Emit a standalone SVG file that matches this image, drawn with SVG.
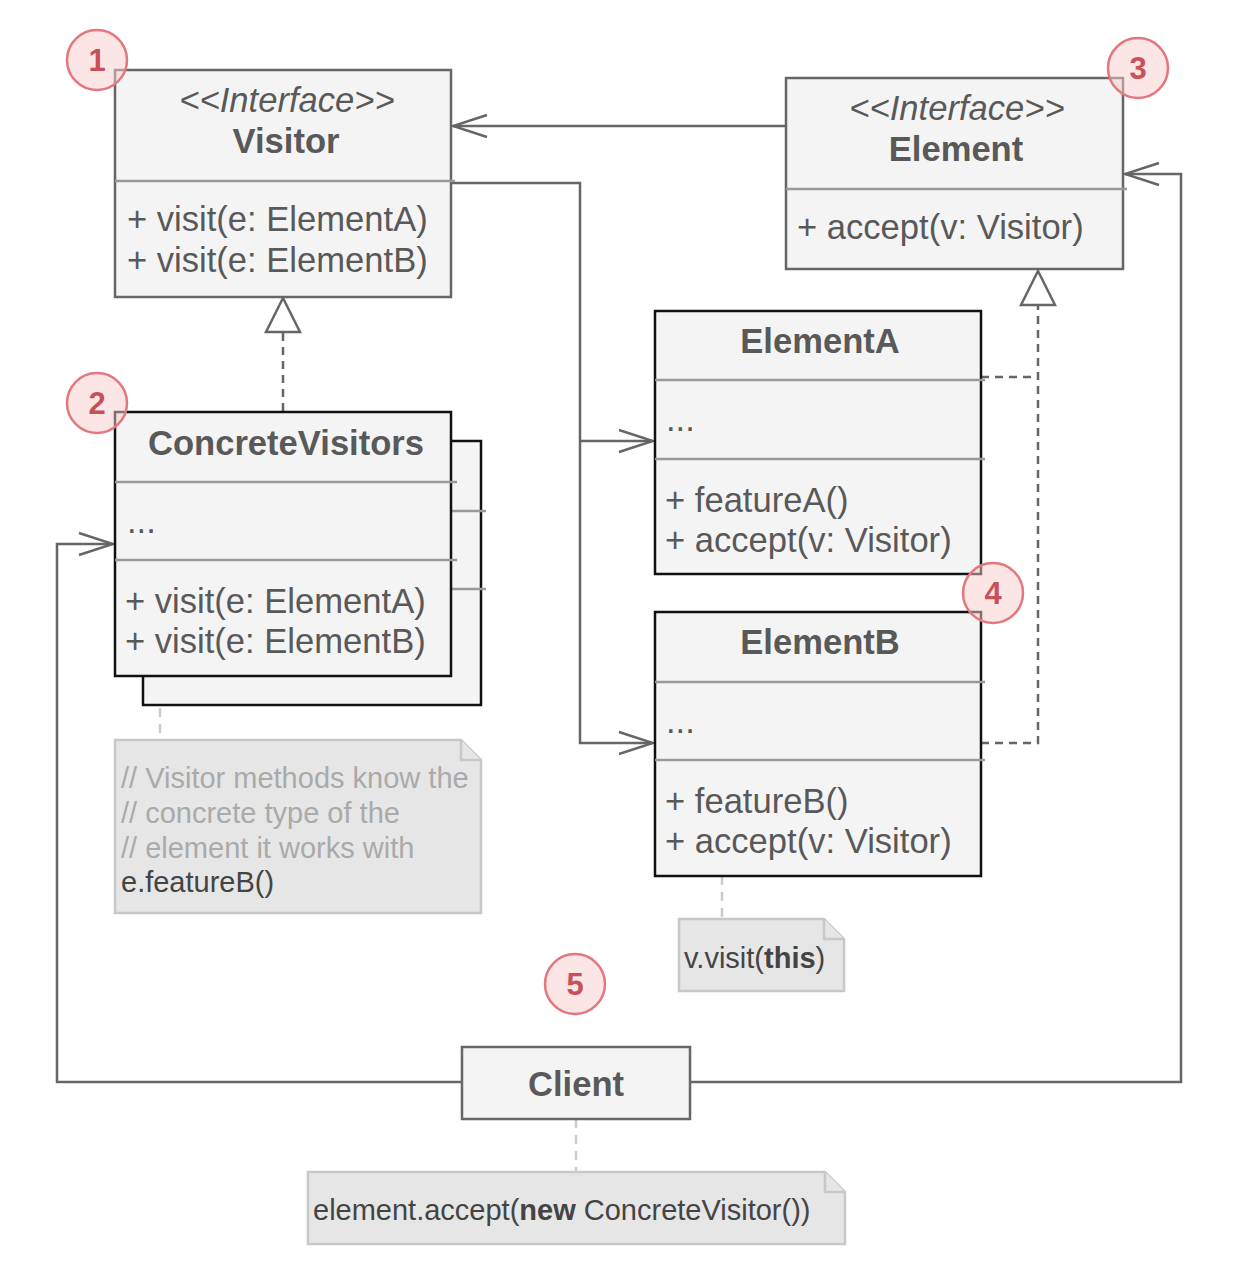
<svg xmlns="http://www.w3.org/2000/svg" width="1234" height="1280" viewBox="0 0 1234 1280">
<defs>
<style>
.box{fill:#f4f4f4;stroke:#666;stroke-width:2.5}
.boxd{fill:#f4f4f4;stroke:#111;stroke-width:2.5}
.div{stroke:#999;stroke-width:2.5;fill:none}
.t{font-family:"Liberation Sans",Arial,sans-serif;font-size:34.6px;fill:#595959}
.b{font-weight:bold}
.i{font-style:italic}
.mid{text-anchor:middle}
.con{fill:none;stroke:#666;stroke-width:2.5}
.dash{fill:none;stroke:#666;stroke-width:2.5;stroke-dasharray:8 6}
.tri{fill:#fff;stroke:#666;stroke-width:2.5}
.ndash{fill:none;stroke:#ccc;stroke-width:2.5;stroke-dasharray:9 7}
.note{fill:#e6e6e6;stroke:#c8c8c8;stroke-width:2.5}
.nt{font-family:"Liberation Sans",Arial,sans-serif;font-size:29px;fill:#444}
.cm{fill:#aaa}
.badge{fill:#f8cecc;fill-opacity:0.5;stroke:#e4777e;stroke-width:2.5}
.bn{font-family:"Liberation Sans",Arial,sans-serif;font-size:31px;font-weight:bold;fill:#c8505a;text-anchor:middle}
</style>
<marker id="open" viewBox="-37 -14 40 28" refX="0" refY="0" markerWidth="40" markerHeight="28" markerUnits="userSpaceOnUse" orient="auto">
<path d="M-34,-11 L0,0 L-34,11" fill="none" stroke="#666" stroke-width="2.5"/>
</marker>
</defs>
<rect width="1234" height="1280" fill="#fff"/>

<g id="connectors">
<path class="con" d="M786,126 H453" marker-end="url(#open)"/>
<path class="con" d="M451,183 H580 V743 H653" marker-end="url(#open)"/>
<path class="con" d="M580,441 H653" marker-end="url(#open)"/>
<path class="con" d="M462,1082 H57 V544 H113" marker-end="url(#open)"/>
<path class="con" d="M690,1082 H1181 V174 H1125" marker-end="url(#open)"/>
<path class="dash" d="M283,411 V332"/>
<polygon class="tri" points="283,298 266,332 300,332"/>
<path class="dash" d="M981,377 H1038"/>
<path class="dash" d="M981,743 H1038 V305"/>
<polygon class="tri" points="1038,271 1021,305 1055,305"/>
<path class="ndash" d="M160,676 V740"/>
<path class="ndash" d="M722,876 V919"/>
<path class="ndash" d="M576,1119 V1172"/>
</g>

<g id="visitor">
<rect class="box" x="115" y="70" width="336" height="227"/>
<line class="div" x1="115" y1="181" x2="455" y2="181"/>
<text class="t i mid" x="287" y="112">&lt;&lt;Interface&gt;&gt;</text>
<text class="t b mid" x="286" y="153">Visitor</text>
<text class="t" x="127" y="231">+ visit(e: ElementA)</text>
<text class="t" x="127" y="272">+ visit(e: ElementB)</text>
</g>

<g id="element">
<rect class="box" x="786" y="78" width="337" height="191"/>
<line class="div" x1="786" y1="189" x2="1127" y2="189"/>
<text class="t i mid" x="957" y="120">&lt;&lt;Interface&gt;&gt;</text>
<text class="t b mid" x="956" y="161">Element</text>
<text class="t" x="797" y="239">+ accept(v: Visitor)</text>
</g>

<g id="concrete-visitors">
<rect class="boxd" x="143" y="441" width="338" height="264"/>
<line class="div" x1="143" y1="511" x2="486" y2="511"/>
<line class="div" x1="143" y1="589" x2="486" y2="589"/>
<rect class="boxd" x="115" y="412" width="336" height="264"/>
<line class="div" x1="115" y1="482" x2="457" y2="482"/>
<line class="div" x1="115" y1="560" x2="457" y2="560"/>
<text class="t b mid" x="286" y="455">ConcreteVisitors</text>
<text class="t" x="127" y="533">...</text>
<text class="t" x="125" y="613">+ visit(e: ElementA)</text>
<text class="t" x="125" y="653">+ visit(e: ElementB)</text>
</g>

<g id="elementA">
<rect class="boxd" x="655" y="311" width="326" height="263"/>
<line class="div" x1="655" y1="380" x2="985" y2="380"/>
<line class="div" x1="655" y1="459" x2="985" y2="459"/>
<text class="t b mid" x="820" y="353">ElementA</text>
<text class="t" x="666" y="431">...</text>
<text class="t" x="665" y="512">+ featureA()</text>
<text class="t" x="665" y="552">+ accept(v: Visitor)</text>
</g>

<g id="elementB">
<rect class="boxd" x="655" y="612" width="326" height="264"/>
<line class="div" x1="655" y1="682" x2="985" y2="682"/>
<line class="div" x1="655" y1="760" x2="985" y2="760"/>
<text class="t b mid" x="820" y="654">ElementB</text>
<text class="t" x="666" y="733">...</text>
<text class="t" x="665" y="813">+ featureB()</text>
<text class="t" x="665" y="853">+ accept(v: Visitor)</text>
</g>

<g id="client">
<rect class="box" x="462" y="1047" width="228" height="72"/>
<text class="t b mid" x="576" y="1096">Client</text>
</g>

<g id="note-visitor">
<path class="note" d="M115,740 H461 L481,760 V913 H115 Z"/>
<path class="note" d="M461,740 V760 H481"/>
<text class="nt cm" x="121" y="788">// Visitor methods know the</text>
<text class="nt cm" x="121" y="823">// concrete type of the</text>
<text class="nt cm" x="121" y="858">// element it works with</text>
<text class="nt" x="121" y="892">e.featureB()</text>
</g>

<g id="note-visit">
<path class="note" d="M679,919 H824 L844,939 V991 H679 Z"/>
<path class="note" d="M824,919 V939 H844"/>
<text class="nt" x="684" y="968">v.visit(<tspan font-weight="bold">this</tspan>)</text>
</g>

<g id="note-client">
<path class="note" d="M308,1172 H825 L845,1192 V1244 H308 Z"/>
<path class="note" d="M825,1172 V1192 H845"/>
<text class="nt" x="313" y="1220">element.accept(<tspan font-weight="bold">new</tspan> ConcreteVisitor())</text>
</g>

<g id="badges">
<g id="badge1"><circle class="badge" cx="97" cy="60" r="30"/><text class="bn" x="97" y="71">1</text></g>
<g id="badge2"><circle class="badge" cx="97" cy="403" r="30"/><text class="bn" x="97" y="414">2</text></g>
<g id="badge3"><circle class="badge" cx="1138" cy="68" r="30"/><text class="bn" x="1138" y="79">3</text></g>
<g id="badge4"><circle class="badge" cx="993" cy="593" r="30"/><text class="bn" x="993" y="604">4</text></g>
<g id="badge5"><circle class="badge" cx="575" cy="984" r="30"/><text class="bn" x="575" y="995">5</text></g>
</g>
</svg>
